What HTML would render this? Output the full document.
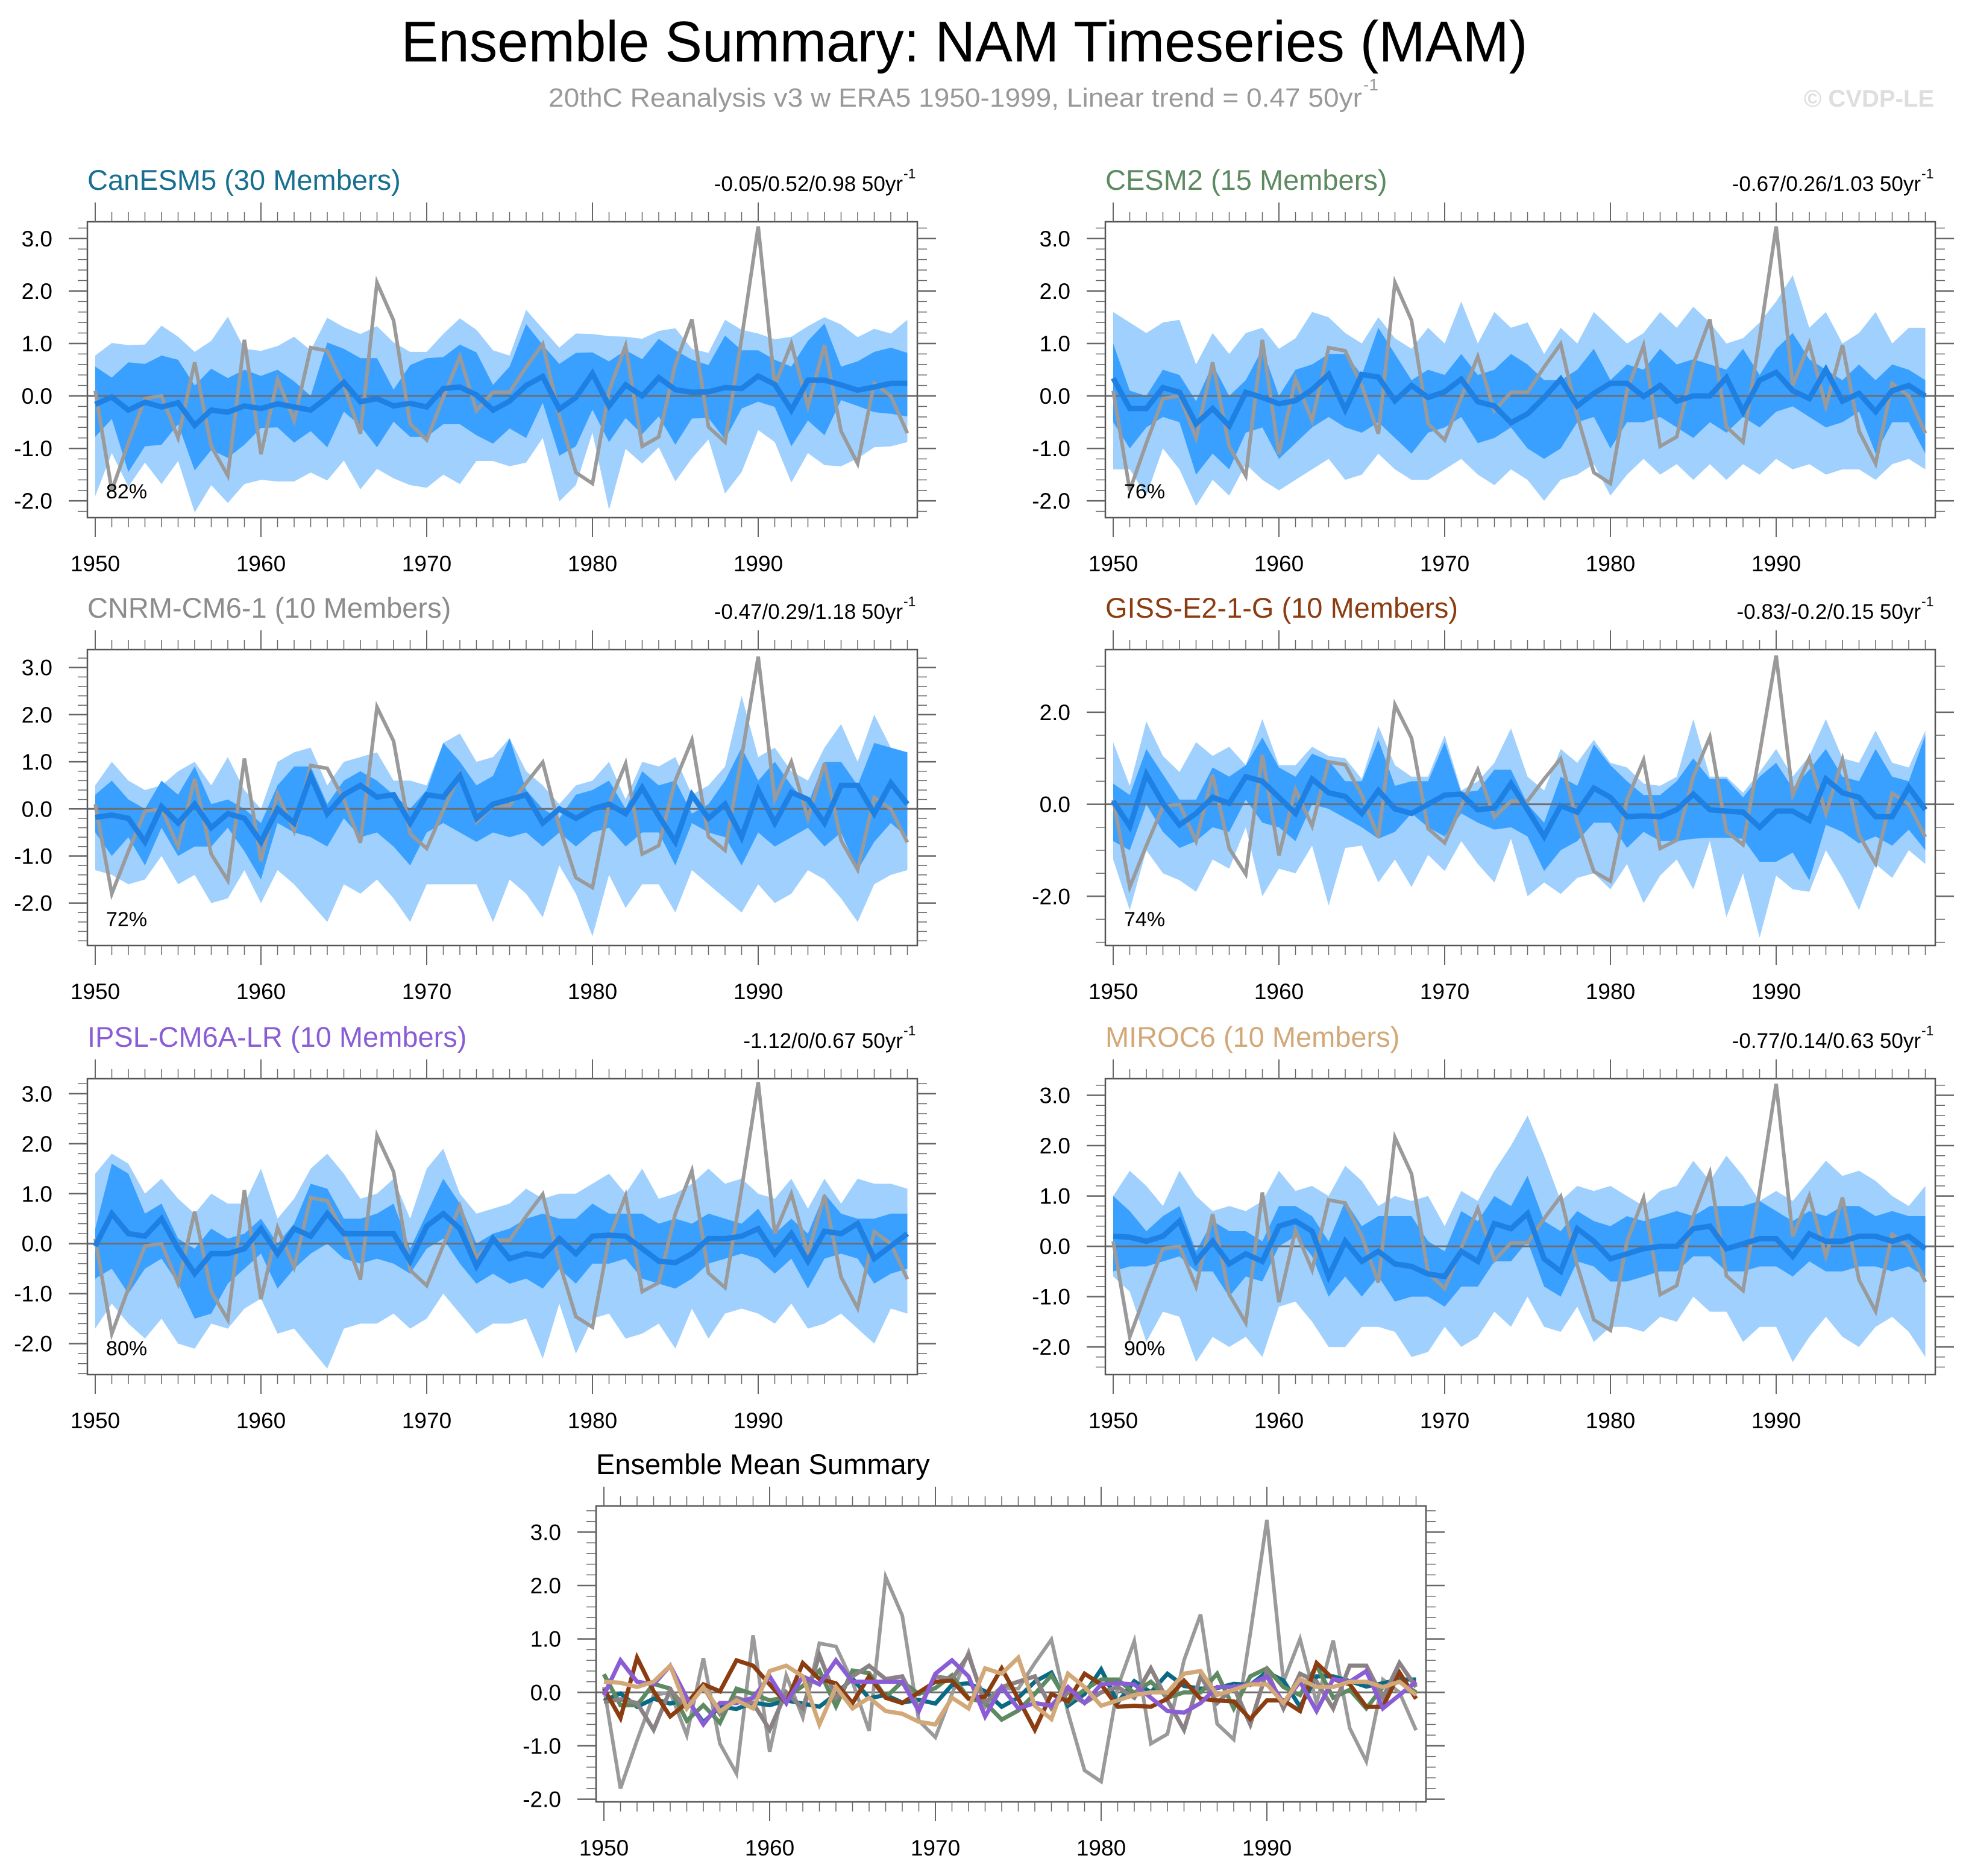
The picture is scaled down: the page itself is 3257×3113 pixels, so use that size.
<!DOCTYPE html>
<html><head><meta charset="utf-8"><title>Ensemble Summary: NAM Timeseries (MAM)</title>
<style>
html,body{margin:0;padding:0;background:#fff;}
svg{display:block;font-family:"Liberation Sans",Arial,sans-serif;}
</style></head>
<body>
<svg id="chart" width="3257" height="3113" viewBox="0 0 3257 3113" xmlns="http://www.w3.org/2000/svg">
<text x="1600" y="102" font-size="96" text-anchor="middle" textLength="1869" lengthAdjust="spacingAndGlyphs" fill="#000">Ensemble Summary: NAM Timeseries (MAM)</text>
<text x="910" y="177" font-size="44" fill="#999" textLength="1350" lengthAdjust="spacingAndGlyphs">20thC Reanalysis v3 w ERA5 1950-1999, Linear trend = 0.47 50yr</text>
<text x="2262" y="150" font-size="28" fill="#999">-1</text>
<text x="3209" y="177" font-size="40" font-weight="bold" fill="#dedede" text-anchor="end">© CVDP-LE</text>
<g id="panels"></g>
</svg>
<script>
const years = [1950,1951,1952,1953,1954,1955,1956,1957,1958,1959,1960,1961,1962,1963,1964,1965,1966,1967,1968,1969,1970,1971,1972,1973,1974,1975,1976,1977,1978,1979,1980,1981,1982,1983,1984,1985,1986,1987,1988,1989,1990,1991,1992,1993,1994,1995,1996,1997,1998,1999];
const xTicks = [1950,1960,1970,1980,1990];
const obs = [0.1,-1.8,-0.9,-0.05,0.0,-0.8,0.64,-0.96,-1.52,1.07,-1.11,0.32,-0.47,0.92,0.86,0.2,-0.72,2.16,1.44,-0.53,-0.84,-0.03,0.75,-0.28,0.07,0.07,0.55,0.99,-0.38,-1.46,-1.67,0.1,0.96,-0.96,-0.78,0.6,1.46,-0.59,-0.88,1.1,3.23,0.2,1.0,-0.2,0.97,-0.67,-1.29,0.24,0.0,-0.71];

const canMean = [-0.16,-0.02,-0.27,-0.12,-0.21,-0.13,-0.56,-0.27,-0.31,-0.19,-0.24,-0.15,-0.21,-0.27,-0.03,0.26,-0.11,-0.05,-0.19,-0.14,-0.21,0.14,0.17,0.02,-0.27,-0.1,0.2,0.37,-0.25,-0.03,0.43,-0.19,0.21,0,0.35,0.12,0.07,0.08,0.16,0.14,0.38,0.22,-0.27,0.3,0.3,0.21,0.11,0.17,0.24,0.24];
const canOutHi = [0.77,1.01,0.97,0.98,1.34,1.13,0.84,1.05,1.51,0.9,0.86,0.95,1.13,0.87,1.49,1.31,1.18,1.33,1.02,0.84,0.84,1.18,1.48,1.26,0.87,0.77,1.64,1.28,0.92,1.19,1.18,1.14,1.13,1.09,1.24,1.29,0.9,0.82,1.45,1.26,1.19,1.08,1.13,1.33,1.5,1.36,1.12,1.28,1.19,1.45];
const canInHi = [0.56,0.35,0.64,0.61,0.77,0.69,0.2,0.52,0.34,0.5,0.38,0.5,0.28,0,1.02,0.9,0.72,0.72,0.12,0.59,0.72,0.74,0.98,0.83,0.21,0.56,1.37,0.97,0.61,0.82,0.83,0.66,0.87,0.7,1.09,0.87,0.69,0.59,1.15,0.87,0.87,0.69,0.56,1.05,1.38,0.56,0.66,0.84,0.92,0.82];
const canInLo = [-0.78,-0.44,-1.45,-0.96,-0.93,-0.54,-1.42,-1.03,-1.18,-0.93,-0.61,-0.6,-0.89,-0.67,-0.98,-0.3,-0.57,-0.98,-0.49,-0.78,-0.78,-0.54,-0.54,-0.75,-0.91,-0.62,-0.8,-0.13,-1.14,-0.96,-0.26,-0.88,-0.42,-0.73,-0.39,-0.93,-0.43,-0.42,-0.83,-0.24,-0.11,-0.21,-0.96,-0.47,-0.75,-0.08,-0.19,-0.31,-0.34,-0.39];
const canOutLo = [-1.91,-1.09,-1.73,-1.27,-1.68,-1.24,-2.22,-1.7,-2.04,-1.68,-1.6,-1.63,-1.63,-1.46,-1.61,-1.23,-1.78,-1.39,-1.57,-1.7,-1.75,-1.5,-1.68,-1.24,-1.24,-1.34,-1.27,-0.8,-2.01,-1.7,-0.7,-2.17,-1.01,-1.29,-0.98,-1.63,-1.19,-0.83,-1.86,-1.45,-0.65,-0.88,-1.65,-1.09,-1.32,-1.34,-1.19,-0.98,-0.96,-0.88];

const cesmMean = [0.34,-0.24,-0.24,0.16,0.07,-0.53,-0.24,-0.57,0.07,-0.03,-0.15,-0.09,0.12,0.41,-0.26,0.41,0.36,-0.09,0.2,-0.03,0.08,0.32,-0.11,-0.19,-0.51,-0.34,-0.03,0.32,-0.19,0.05,0.24,0.24,-0.01,0.2,-0.1,0.0,0.0,0.35,-0.3,0.3,0.45,0.1,-0.05,0.5,-0.1,0.05,-0.3,0.1,0.2,0.0];
const cesmOutHi = [1.6,1.4,1.2,1.4,1.45,0.6,1.2,0.8,1.2,1.3,0.9,1.1,1.6,1.5,1.2,1.0,1.5,1.1,0.9,1.3,1.0,1.8,1.0,1.6,1.3,1.4,0.8,1.3,1.0,1.6,1.3,1.0,1.2,1.6,1.3,1.7,1.4,1.0,1.1,1.4,1.8,2.3,1.3,1.6,1.0,1.2,1.6,1.0,1.3,1.3];
const cesmInHi = [1.0,0.1,0.0,0.5,0.4,-0.1,0.6,0.0,0.3,0.9,0.0,0.5,0.6,0.8,0.8,0.4,1.3,0.8,0.3,0.5,0.4,0.8,0.4,0.5,0.8,0.6,0.3,0.3,0.5,0.9,0.3,0.6,0.5,0.9,0.6,0.7,0.6,0.5,0.9,0.4,0.9,1.2,0.7,0.5,0.3,0.6,0.3,0.6,0.5,0.3];
const cesmInLo = [-0.5,-1.0,-0.6,-0.4,-0.5,-1.5,-1.1,-1.4,-0.7,-0.6,-1.2,-0.9,-0.6,-0.4,-0.6,-0.7,-0.5,-0.8,-1.1,-0.7,-0.6,-0.4,-0.9,-0.8,-0.6,-1.0,-1.2,-1.0,-0.5,-0.4,-1.0,-0.5,-0.5,-0.4,-0.6,-0.8,-0.5,-0.7,-0.4,-0.6,-0.3,-0.2,-0.4,-0.6,-0.5,-0.3,-1.1,-0.5,-0.5,-1.1];
const cesmOutLo = [-1.4,-1.4,-1.9,-1.0,-1.4,-2.1,-1.6,-1.9,-1.3,-1.6,-1.8,-1.6,-1.4,-1.2,-1.6,-1.5,-1.1,-1.4,-1.6,-1.6,-1.4,-1.2,-1.5,-1.7,-1.4,-1.6,-2.0,-1.6,-1.5,-1.3,-1.9,-1.5,-1.2,-1.5,-1.3,-1.6,-1.3,-1.6,-1.3,-1.5,-1.2,-1.4,-1.3,-1.5,-1.4,-1.4,-1.6,-1.3,-1.2,-1.4];

const cnrmMean = [-0.18,-0.13,-0.2,-0.7,0.05,-0.3,0.1,-0.4,-0.1,-0.2,-0.7,0.0,-0.3,0.7,-0.1,0.3,0.5,0.25,0.3,-0.3,0.3,0.25,0.7,-0.2,0.1,0.2,0.3,-0.3,0.0,-0.2,0.0,0.1,-0.1,0.45,-0.15,-0.7,0.3,-0.2,0.1,-0.6,0.4,-0.3,0.35,0.2,-0.3,0.5,0.5,-0.1,0.55,0.1];
const cnrmOutHi = [0.5,1.0,0.6,0.4,0.5,0.8,1.0,0.5,1.1,0.4,0.0,1.0,1.2,1.3,0.5,1.0,1.1,1.2,0.6,0.6,0.5,1.4,1.6,1.0,1.1,1.5,0.8,0.5,0.1,0.5,0.6,1.0,0.2,1.0,0.9,1.1,0.3,0.5,0.9,2.4,1.1,1.3,0.8,0.6,1.3,1.8,1.0,2.0,1.3,1.0];
const cnrmInHi = [0.3,0.6,0.2,0.0,0.6,0.3,0.9,0.1,0.2,0.0,-0.3,0.5,0.9,0.9,0.1,0.6,0.8,0.6,0.3,0.0,0.4,1.4,1.0,0.5,0.7,1.5,0.4,0.0,-0.2,0.3,0.4,0.6,0.0,0.8,0.5,0.6,-0.1,0.1,0.6,1.3,0.6,1.0,0.5,0.1,1.0,1.0,0.5,1.4,1.3,1.2];
const cnrmInLo = [-0.5,-1.0,-0.6,-1.2,-0.4,-1.0,-0.8,-0.8,-0.4,-0.9,-1.5,-0.3,-0.5,-0.6,-0.8,-0.2,-0.6,-0.5,-0.8,-1.2,-0.5,-0.3,-0.5,-0.7,-0.5,-0.6,-0.5,-0.8,-0.5,-0.8,-0.5,-0.4,-0.8,-0.5,-0.5,-1.2,-0.3,-0.5,-0.6,-1.2,-0.5,-0.8,-0.6,-0.4,-0.8,-0.5,-1.3,-0.7,-0.3,-0.6];
const cnrmOutLo = [-1.3,-1.4,-1.6,-1.5,-1.0,-1.6,-1.4,-2.0,-1.9,-1.3,-2.0,-1.3,-1.6,-2.0,-2.4,-1.6,-1.8,-1.5,-1.9,-2.4,-1.6,-1.6,-1.6,-1.6,-2.4,-1.5,-1.8,-2.3,-1.2,-1.8,-2.7,-1.4,-2.1,-1.6,-1.6,-2.2,-1.3,-1.6,-1.9,-2.2,-1.6,-2.0,-1.8,-1.3,-1.5,-1.9,-2.4,-1.6,-1.4,-1.3];

const gissMean = [0.07,-0.48,0.65,0.02,-0.45,-0.2,0.15,0.02,0.6,0.5,0.15,-0.2,0.55,0.25,0.17,-0.2,0.3,-0.1,-0.2,0,0.2,0.22,-0.12,-0.08,0.45,-0.12,-0.7,-0.03,-0.17,0.35,0.15,-0.27,-0.25,-0.27,-0.12,0.22,-0.12,-0.15,-0.17,-0.5,-0.15,-0.15,-0.35,0.55,0.25,0.15,-0.27,-0.27,0.37,-0.12];
const gissOutHi = [1.35,0.4,1.8,1.05,0.7,1.35,1.05,1.25,0.85,1.85,0.85,0.85,1.25,1.05,1.0,0.55,1.7,0.85,0.6,0.6,1.5,0.3,0.5,0.9,1.65,0.6,0.3,1.2,0.9,1.4,0.9,0.8,0.45,0.4,0.6,1.85,0.6,0.6,0.25,0.7,1.2,0.6,1.05,1.85,1.0,0.9,1.6,0.9,0.8,1.6];
const gissInHi = [0.45,0.2,1.2,0.65,0.1,0.1,0.8,0.6,0.85,1.45,0.8,0.6,1.1,0.95,0.5,0.5,1.4,0.4,0.5,0.5,1.35,0.25,0.3,0.75,0.75,0.0,-0.4,0.6,0.4,1.3,0.85,0.5,0.2,0.2,0.5,1.0,0.55,0.55,0.15,0.6,0.9,0.35,0.75,1.2,0.6,0.5,1.2,0.6,0.5,1.5];
const gissInLo = [-0.8,-1.0,0.0,-0.6,-0.95,-0.8,-0.5,-0.6,0.1,-0.4,-0.5,-0.8,0.0,-0.1,-0.3,-0.5,-0.75,-0.6,-0.2,-0.5,-0.7,-0.2,-0.4,-0.55,-0.5,-0.7,-1.45,-1.0,-0.8,-0.4,-0.4,-0.95,-0.6,-0.8,-0.8,-0.75,-0.73,-0.73,-0.75,-1.25,-1.25,-1.05,-1.65,-0.45,-0.6,-0.85,-0.7,-0.9,-0.55,-1.0];
const gissOutLo = [-1.2,-2.3,-1.0,-1.5,-1.65,-1.9,-1.2,-1.4,-0.5,-2.0,-1.4,-1.5,-0.9,-2.2,-0.95,-0.9,-1.7,-1.2,-1.8,-1.1,-1.45,-0.8,-1.3,-1.7,-0.75,-2.0,-1.7,-1.95,-1.6,-1.5,-1.85,-1.3,-2.15,-1.55,-1.2,-1.85,-0.8,-2.45,-1.5,-2.9,-1.55,-1.85,-1.9,-1.0,-1.6,-2.3,-1.3,-1.6,-1.0,-1.3];

const ipslMean = [-0.05,0.6,0.2,0.15,0.5,-0.1,-0.6,-0.2,-0.2,-0.1,0.3,-0.2,0.3,0.15,0.6,0.2,0.2,0.2,0.2,-0.35,0.35,0.6,0.3,-0.45,0.1,-0.3,-0.2,-0.25,0.1,-0.2,0.15,0.17,0.15,-0.1,-0.35,-0.38,-0.2,0.1,0.1,0.15,0.3,-0.2,0.2,-0.35,0.25,0.2,0.4,-0.3,-0.05,0.2];
const ipslOutHi = [1.4,1.8,1.6,1.0,1.3,0.9,0.6,1.0,0.8,0.8,1.5,0.5,0.9,1.5,1.8,1.4,0.9,1.0,1.3,0.5,1.5,1.9,1.0,0.6,0.7,0.8,1.1,0.9,1.0,1.0,1.2,1.4,1.0,1.5,0.9,1.0,1.2,1.5,1.2,1.3,1.0,0.9,1.3,0.7,1.3,0.8,1.3,1.2,1.2,1.1];
const ipslInHi = [0.3,1.6,1.4,0.6,0.8,0.1,-0.1,0.3,0.1,0.2,0.5,0.0,0.4,1.2,1.1,0.5,0.5,0.6,0.8,-0.1,0.6,1.3,0.8,0.0,0.2,0.3,0.5,0.6,0.5,0.5,0.8,0.6,0.6,0.6,0.4,0.5,0.4,0.6,0.5,0.4,0.7,0.2,0.5,0.2,1.0,0.6,0.5,0.5,0.6,0.6];
const ipslInLo = [-0.7,-0.5,-1.0,-0.5,-0.3,-0.8,-1.5,-1.4,-0.8,-0.5,-0.2,-0.9,-0.5,-0.2,0.0,-0.3,-0.4,-0.3,-0.4,-0.6,-0.1,0.1,-0.4,-0.8,-0.6,-0.8,-0.7,-0.9,-0.5,-0.8,-0.4,-0.4,-0.3,-0.7,-0.8,-0.9,-0.7,-0.4,-0.3,-0.2,-0.3,-0.6,-0.3,-0.9,-0.3,-0.2,-0.3,-0.8,-0.6,-0.5];
const ipslOutLo = [-1.7,-1.2,-1.6,-1.9,-1.5,-2.0,-2.1,-1.6,-1.7,-1.3,-1.1,-1.8,-1.7,-2.1,-2.5,-1.7,-1.6,-1.6,-1.4,-1.7,-1.5,-1.0,-1.4,-1.8,-1.6,-1.6,-1.5,-2.3,-1.2,-2.2,-1.5,-1.4,-1.9,-1.8,-1.6,-2.1,-1.3,-1.9,-1.4,-1.3,-1.4,-1.6,-1.2,-1.7,-1.6,-1.4,-1.7,-2.0,-1.3,-1.4];

const mirocMean = [0.2,0.18,0.1,0.2,0.5,-0.3,0.1,-0.35,-0.15,-0.3,0.4,0.5,0.3,-0.6,0.1,-0.3,-0.1,-0.35,-0.4,-0.55,-0.6,-0.1,-0.3,0.45,0.35,0.65,-0.25,-0.5,0.35,0.1,-0.25,-0.15,-0.05,0.0,0.0,0.35,0.4,-0.05,0.05,0.15,0.15,-0.2,0.25,0.1,0.1,0.2,0.2,0.1,0.2,-0.05];
const mirocOutHi = [1.0,1.5,1.2,0.8,1.5,1.0,0.7,0.8,0.7,0.9,1.5,1.1,1.2,1.0,1.6,1.3,0.8,1.0,0.9,1.0,0.4,1.1,0.9,1.5,2.0,2.6,1.8,0.9,1.2,1.1,1.2,1.0,0.8,1.1,1.2,1.7,1.3,1.8,1.4,0.9,1.1,0.9,1.3,1.7,1.4,1.5,1.3,1.0,0.8,1.2];
const mirocInHi = [1.0,0.7,0.3,0.6,0.8,-0.1,0.5,0.3,0.3,0.1,0.8,0.8,0.6,0.1,0.9,0.4,0.6,0.6,0.6,0.1,-0.1,0.7,0.5,1.0,0.8,1.4,0.5,0.3,0.7,0.5,0.4,0.6,0.5,0.6,0.7,0.6,0.8,0.8,0.8,0.9,0.7,0.5,0.7,0.6,0.8,0.8,0.6,0.7,0.6,0.6];
const mirocInLo = [-0.5,-0.4,-0.4,-0.3,-0.2,-0.5,-0.5,-1.0,-0.6,-0.7,0.0,0.2,-0.2,-1.0,-0.6,-1.0,-0.6,-1.1,-1.0,-1.0,-1.2,-0.8,-0.8,-0.3,-0.3,0.1,-0.8,-1.0,-0.3,-0.4,-0.7,-0.7,-0.6,-0.5,-0.5,-0.2,-0.2,-0.5,-0.5,-0.4,-0.4,-0.6,-0.3,-0.5,-0.5,-0.4,-0.4,-0.5,-0.4,-0.6];
const mirocOutLo = [-0.6,-0.9,-1.9,-1.3,-1.4,-2.3,-1.8,-2.0,-1.8,-2.2,-1.2,-1.1,-1.5,-2.0,-2.0,-1.6,-1.6,-1.7,-2.2,-2.1,-1.6,-2.0,-1.8,-1.3,-1.6,-1.0,-1.6,-1.7,-1.2,-1.9,-1.6,-1.6,-1.7,-1.4,-1.5,-1.0,-1.3,-1.3,-1.9,-1.6,-1.6,-2.3,-1.8,-1.4,-1.8,-2.0,-1.6,-1.4,-1.7,-2.2];

const modelNames = ["CanESM5 (30 Members)","CESM2 (15 Members)","CNRM-CM6-1 (10 Members)","GISS-E2-1-G (10 Members)","IPSL-CM6A-LR (10 Members)","MIROC6 (10 Members)"];
const trendLabels = ["-0.05/0.52/0.98 50yr","-0.67/0.26/1.03 50yr","-0.47/0.29/1.18 50yr","-0.83/-0.2/0.15 50yr","-1.12/0/0.67 50yr","-0.77/0.14/0.63 50yr"];
const pctLabels = ["82%","76%","72%","74%","80%","90%"];

const NS = "http://www.w3.org/2000/svg";
const root = document.getElementById('panels');
function el(tag, attrs, parent){
  const e = document.createElementNS(NS, tag);
  for (const k in attrs) e.setAttribute(k, attrs[k]);
  (parent||root).appendChild(e);
  return e;
}
const BW = 1377, BH = 491;
function makePanel(cfg){
  const g = el('g', {});
  
  
  const L = cfg.x, T = cfg.y, R = L + BW, B = T + BH;
  const xs = yr => L + 13 + (yr - 1950) * 27.5;
  const ys = v => T + (cfg.ymax - v) / (cfg.ymax - cfg.ymin) * BH;
  const clip = el('clipPath', {id: 'clip-' + cfg.name}, g);
  el('rect', {x: L, y: T, width: BW, height: BH}, clip);
  const plot = el('g', {'clip-path': 'url(#clip-' + cfg.name + ')'}, g);
  function band(hi, lo, color, nm){
    let pts = [];
    for (let i = 0; i < years.length; i++) pts.push(xs(years[i]).toFixed(1) + ',' + ys(hi[i]).toFixed(1));
    for (let i = years.length - 1; i >= 0; i--) pts.push(xs(years[i]).toFixed(1) + ',' + ys(lo[i]).toFixed(1));
    const p = el('polygon', {points: pts.join(' '), fill: color}, plot);
    
    
  }
  function line(vals, color, w, nm){
    const pts = vals.map((v, i) => xs(years[i]).toFixed(1) + ',' + ys(v).toFixed(1)).join(' ');
    const p = el('polyline', {points: pts, fill: 'none', stroke: color, 'stroke-width': w, 'stroke-linejoin': 'miter'}, plot);
    
    
  }
  if (cfg.outHi){
    band(cfg.outHi, cfg.outLo, '#a0d0fd', 'ensemble-outer-range-band');
    band(cfg.inHi, cfg.inLo, '#3aa0ff', 'ensemble-inner-range-band');
  }
  const z = el('line', {x1: L, x2: R, y1: ys(0), y2: ys(0), stroke: '#6f6f6f', 'stroke-width': 3}, plot);
  
  
  if (cfg.outHi){
    line(obs, '#9a9a9a', 6, 'observed-nam-line');
    line(cfg.mean, '#1f80e3', 9, 'ensemble-mean-line');
  } else {
    line(obs, '#9a9a9a', 6, 'observed-nam-line');
    cfg.means.forEach((m, k) => line(m, cfg.colors[k], 7, 'ensemble-mean-' + cfg.keys[k]));
  }
  const box = el('rect', {x: L, y: T, width: BW, height: BH, fill: 'none', stroke: '#555', 'stroke-width': 2.5}, g);
  
  
  for (let yr = 1950; yr <= 1999; yr++){
    const major = xTicks.includes(yr);
    const len = major ? 32 : 16;
    const x = xs(yr);
    el('line', {x1: x, x2: x, y1: T, y2: T - len, stroke: '#666', 'stroke-width': major ? 2 : 1.5}, g);
    el('line', {x1: x, x2: x, y1: B, y2: B + len, stroke: '#666', 'stroke-width': major ? 2 : 1.5}, g);
  }
  xTicks.forEach(yr => {
    const t = el('text', {x: xs(yr), y: B + 89, 'font-size': 37, 'text-anchor': 'middle', fill: '#000'}, g);
    t.textContent = yr;
    
    
  });
  const step = cfg.ystep, mstep = cfg.mstep;
  for (let v = Math.ceil(cfg.ymin / mstep) * mstep; v <= cfg.ymax + 1e-6; v += mstep){
    const vv = Math.round(v * 100) / 100;
    const major = Math.abs(vv / step - Math.round(vv / step)) < 1e-6;
    const len = major ? 31 : 16;
    const y = ys(vv);
    el('line', {x1: L, x2: L - len, y1: y, y2: y, stroke: '#666', 'stroke-width': major ? 2.5 : 1.5}, g);
    el('line', {x1: R, x2: R + len, y1: y, y2: y, stroke: '#666', 'stroke-width': major ? 2.5 : 1.5}, g);
    if (major){
      const t = el('text', {x: L - 58, y: y + 13, 'font-size': 37, 'text-anchor': 'end', fill: '#000'}, g);
      t.textContent = vv.toFixed(1);
      
      
    }
  }
  const tt = el('text', {x: L, y: T - 53, 'font-size': 47, fill: cfg.color}, g);
  tt.textContent = cfg.title;
  
  
  if (cfg.trend){
    const tr = el('text', {x: R - 24, y: T - 51, 'font-size': 35, 'text-anchor': 'end', fill: '#000'}, g);
    tr.textContent = cfg.trend;
    
    
    const sup = el('text', {x: R - 23, y: T - 72, 'font-size': 23, fill: '#000'}, g);
    sup.textContent = '-1';
    
    
    const pc = el('text', {x: L + 31, y: B - 32, 'font-size': 34, fill: '#000'}, g);
    pc.textContent = cfg.pct;
    
    
  }
}
const colX = [145, 1834];
const rowY = [368, 1078, 1790];
const panelDefs = [
  {name:'canesm5-panel', color:'#17708f', mean:canMean, outHi:canOutHi, inHi:canInHi, inLo:canInLo, outLo:canOutLo, ymin:-2.32, ymax:3.32, ystep:1, mstep:0.2},
  {name:'cesm2-panel', color:'#5d8a60', mean:cesmMean, outHi:cesmOutHi, inHi:cesmInHi, inLo:cesmInLo, outLo:cesmOutLo, ymin:-2.32, ymax:3.32, ystep:1, mstep:0.2},
  {name:'cnrm-cm6-1-panel', color:'#8c8c8c', mean:cnrmMean, outHi:cnrmOutHi, inHi:cnrmInHi, inLo:cnrmInLo, outLo:cnrmOutLo, ymin:-2.9, ymax:3.38, ystep:1, mstep:0.2},
  {name:'giss-e2-1-g-panel', color:'#8b3c10', mean:gissMean, outHi:gissOutHi, inHi:gissInHi, inLo:gissInLo, outLo:gissOutLo, ymin:-3.07, ymax:3.36, ystep:2, mstep:0.5},
  {name:'ipsl-cm6a-lr-panel', color:'#8a5dd6', mean:ipslMean, outHi:ipslOutHi, inHi:ipslInHi, inLo:ipslInLo, outLo:ipslOutLo, ymin:-2.62, ymax:3.3, ystep:1, mstep:0.2},
  {name:'miroc6-panel', color:'#d2a878', mean:mirocMean, outHi:mirocOutHi, inHi:mirocInHi, inLo:mirocInLo, outLo:mirocOutLo, ymin:-2.55, ymax:3.33, ystep:1, mstep:0.2}
];
panelDefs.forEach((p, i) => {
  p.x = colX[i % 2];
  p.y = rowY[Math.floor(i / 2)];
  p.title = modelNames[i];
  p.trend = trendLabels[i];
  p.pct = pctLabels[i];
  makePanel(p);
});
makePanel({name:'ensemble-mean-summary-panel', color:'#000', title:'Ensemble Mean Summary', x:989, y:2499,
  means:[canMean, cesmMean, cnrmMean, gissMean, ipslMean, mirocMean],
  colors:['#0a6a85','#5d8a60','#8a8285','#8b3c10','#8a5dd6','#d2a878'],
  keys:['canesm5','cesm2','cnrm-cm6-1','giss-e2-1-g','ipsl-cm6a-lr','miroc6'],
  ymin:-2.05, ymax:3.49, ystep:1, mstep:0.2});
</script>
</body></html>
